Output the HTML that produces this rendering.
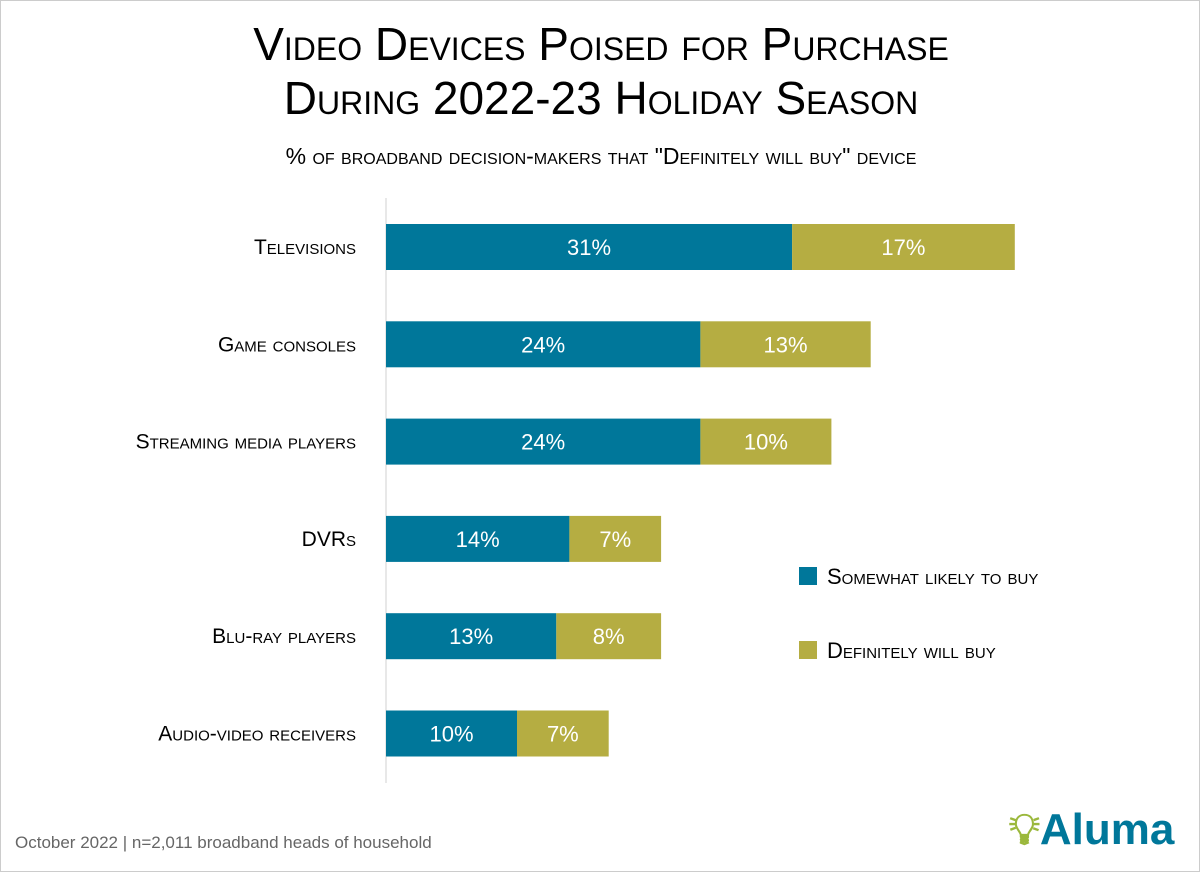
<!DOCTYPE html>
<html><head><meta charset="utf-8"><style>
body{margin:0;background:#fff;width:1200px;height:872px;overflow:hidden;font-family:"Liberation Sans",sans-serif;}
#wrap{position:relative;width:1198px;height:870px;border:1px solid #ccc;}
.t{position:absolute;left:0;width:1200px;text-align:center;color:#000;font-variant:small-caps;}
</style></head><body>
<div id="wrap">
<div class="t" style="top:16px;font-size:46px;line-height:54px;">Video Devices Poised for Purchase<br>During 2022-23 Holiday Season</div>
<div class="t" style="top:142px;font-size:23px;">% of broadband decision-makers that "Definitely will buy" device</div>
<svg id="chart" width="1200" height="872" style="position:absolute;left:0;top:0"></svg>
<div style="position:absolute;left:14px;top:832px;font-size:17px;color:#666;">October 2022 | n=2,011 broadband heads of household</div>
<div style="position:absolute;left:1008px;top:804px;font-size:44px;color:#00779a;font-weight:bold;"><span style="color:#9bb83c">&#x1F4A1;&#xFE0E;</span>Aluma</div>
</div>
<script>
const categories=["Televisions","Game consoles","Streaming media players","DVRs","Blu-ray players","Audio-video receivers"];
const somewhat=[31,24,24,14,13,10];
const definitely=[17,13,10,7,8,7];
const seriesNames=["Somewhat likely to buy","Definitely will buy"];
const colors=["#00779a","#b5ad42"];
const svg=document.getElementById('chart');
const NS="http://www.w3.org/2000/svg";
const x0=385,pxPer=13.1,rowTop=223,rowStep=97.3,barH=46;
const xs=v=>x0+v*pxPer;
const ys=i=>rowTop+i*rowStep;
function mk(t,a){const e=document.createElementNS(NS,t);for(const k in a)e.setAttribute(k,a[k]);svg.appendChild(e);return e;}
const ax=mk('line',{x1:x0,x2:x0,y1:197,y2:782,stroke:'#d0d0d0','stroke-width':1});


categories.forEach((c,i)=>{
  const y=ys(i);
  const lab=mk('text',{x:355,y:y+barH/2+7,'text-anchor':'end','font-size':21,'font-variant':'small-caps',fill:'#000'});
  lab.textContent=c;
  
  
  const vals=[somewhat[i],definitely[i]];
  let start=0;
  vals.forEach((v,s)=>{
    const r=mk('rect',{x:xs(start),y:y,width:xs(start+v)-xs(start),height:barH,fill:colors[s]});
    
    
    const t=mk('text',{x:(xs(start)+xs(start+v))/2,y:y+barH/2+8,'text-anchor':'middle','font-size':22,fill:'#fff'});
    t.textContent=v+'%';
    
    
    start+=v;
  });
});
seriesNames.forEach((n,s)=>{
  const y=566+s*74;
  const r=mk('rect',{x:798,y:y,width:18,height:18,fill:colors[s]});
  
  
  const t=mk('text',{x:826,y:y+17,'font-size':22,'font-variant':'small-caps',fill:'#000'});
  t.textContent=n;
  
  
});
</script>
</body></html>
